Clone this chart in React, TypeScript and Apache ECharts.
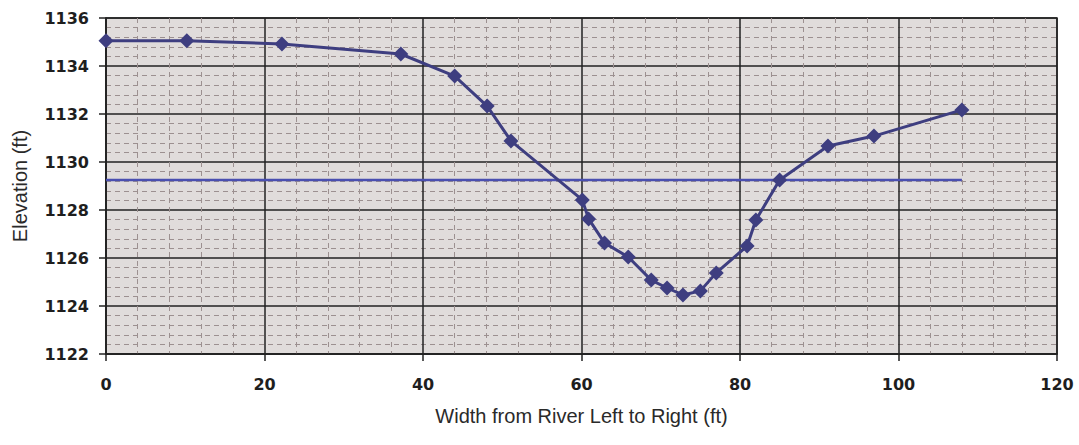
import React, { useEffect, useRef } from "react";
import * as echarts from "echarts";

const widthFt = [0, 10.2, 22.2, 37.2, 44.0, 48.1, 51.1, 60.1, 60.9, 62.9, 65.9, 68.8, 70.8, 72.8, 75.0, 77.0, 80.9, 82.0, 85.0, 91.1, 96.9, 108.0];
const elevationFt = [1135.05, 1135.05, 1134.92, 1134.5, 1133.58, 1132.33, 1130.88, 1128.42, 1127.63, 1126.63, 1126.04, 1125.08, 1124.75, 1124.46, 1124.63, 1125.38, 1126.5, 1127.58, 1129.25, 1130.67, 1131.08, 1132.17];
const waterX = [0, 108];
const waterY = [1129.25, 1129.25];

export default function App() {
  const ref = useRef<HTMLDivElement>(null);
  useEffect(() => {
    document.body.style.margin = "0";
    if (!ref.current) return;
    const chart = echarts.init(ref.current, null, { renderer: "svg" });
    const font = "Liberation Sans, Arial, sans-serif";
    const tickFont = "DejaVu Sans, sans-serif";
    chart.setOption({
      animation: false,
      backgroundColor: "#ffffff",
      grid: {
        left: 106,
        right: 22,
        top: 18,
        bottom: 91,
        show: true,
        backgroundColor: "#e0dcdb",
        borderColor: "#222",
        borderWidth: 1.5,
      },
      xAxis: {
        type: "value",
        min: 0,
        max: 120,
        interval: 20,
        name: "Width from River Left to Right (ft)",
        nameLocation: "middle",
        nameGap: 52,
        nameTextStyle: { fontFamily: font, fontSize: 20, color: "#2a2a2a" },
        axisLine: { show: true, lineStyle: { color: "#222", width: 1.5 } },
        axisTick: { show: true, length: 7, lineStyle: { color: "#222", width: 1.5 } },
        axisLabel: { fontFamily: tickFont, fontWeight: "bold", fontSize: 16, color: "#1e1e1e", margin: 22, formatter: (v: number) => String(v) },
        splitLine: { show: true, lineStyle: { color: "#222", width: 1.5 } },
        minorTick: { show: false, splitNumber: 5 },
        minorSplitLine: { show: true, lineStyle: { color: "#9c9090", width: 1, type: [5, 4] } },
      },
      yAxis: {
        type: "value",
        min: 1122,
        max: 1136,
        interval: 2,
        name: "Elevation (ft)",
        nameLocation: "middle",
        nameGap: 76,
        nameTextStyle: { fontFamily: font, fontSize: 20, color: "#2a2a2a" },
        axisLine: { show: true, lineStyle: { color: "#222", width: 1.5 } },
        axisTick: { show: true, length: 7, lineStyle: { color: "#222", width: 1.5 } },
        axisLabel: { fontFamily: tickFont, fontWeight: "bold", fontSize: 16, color: "#1e1e1e", margin: 17, formatter: (v: number) => String(v) },
        splitLine: { show: true, lineStyle: { color: "#222", width: 1.5 } },
        minorTick: { show: false, splitNumber: 5 },
        minorSplitLine: { show: true, lineStyle: { color: "#9c9090", width: 1, type: [5, 4] } },
      },
      series: [
        {
          type: "line",
          data: waterX.map((x, i) => [x, waterY[i]]),
          showSymbol: false,
          symbol: "none",
          lineStyle: { color: "#4a4fb0", width: 2.5 },
          z: 2,
        },
        {
          type: "line",
          data: widthFt.map((x, i) => [x, elevationFt[i]]),
          symbol: "diamond",
          symbolSize: 15,
          itemStyle: { color: "#3e3e80" },
          lineStyle: { color: "#3e3e80", width: 3 },
          z: 3,
        },
      ],
    });
    return () => chart.dispose();
  }, []);
  return <div ref={ref} style={{ width: 1079, height: 445 }} />;
}
